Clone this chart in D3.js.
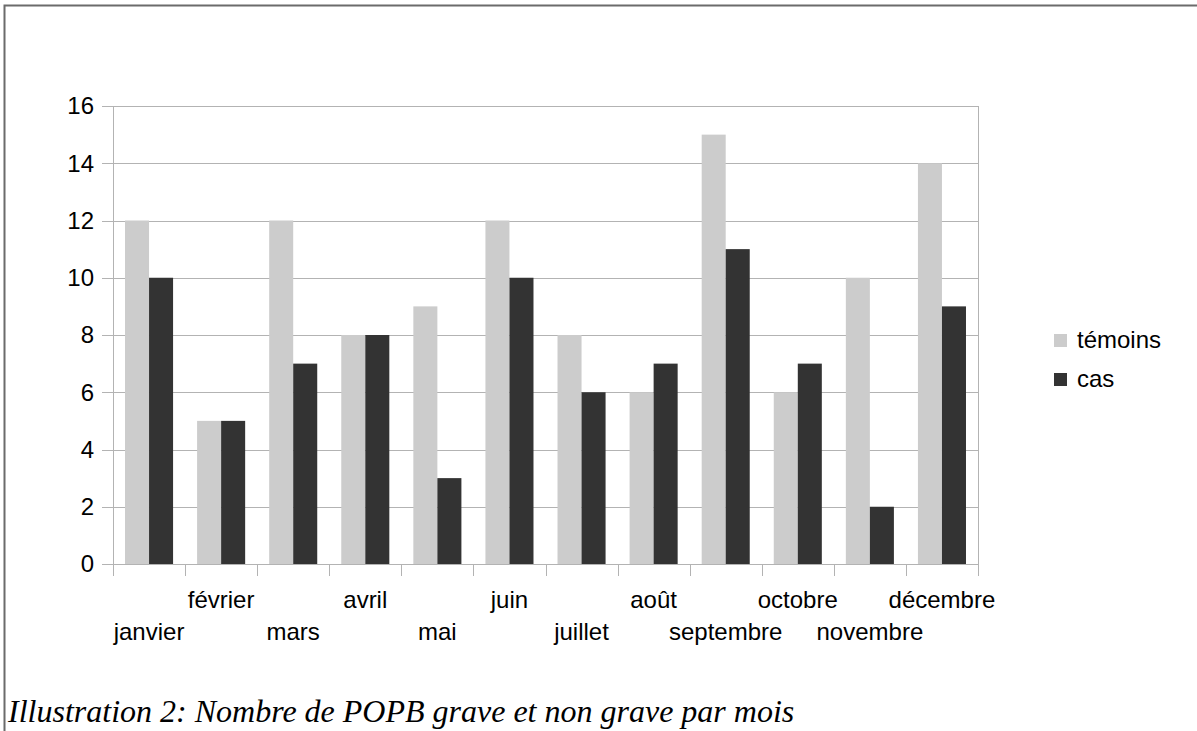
<!DOCTYPE html>
<html>
<head>
<meta charset="utf-8">
<script src="https://cdn.jsdelivr.net/npm/d3@7"></script>
<style>
  body { margin: 0; background: #fff; }
  text { font-family: "Liberation Sans", Arial, sans-serif; fill: #000; }
</style>
</head>
<body>
<svg id="chart" width="1197" height="731"></svg>
<script>
const months = ["janvier", "février", "mars", "avril", "mai", "juin",
  "juillet", "août", "septembre", "octobre", "novembre", "décembre"];
const series = ["témoins", "cas"];
const temoins = [12, 5, 12, 8, 9, 12, 8, 6, 15, 6, 10, 14];
const cas = [10, 5, 7, 8, 3, 10, 6, 7, 11, 7, 2, 9];
const yTicks = [0, 2, 4, 6, 8, 10, 12, 14, 16];
const caption = "Illustration 2: Nombre de POPB grave et non grave par mois";

const colors = { "témoins": "#cccccc", "cas": "#333333" };

const svg = d3.select("#chart");

// frame
svg.append("rect")
  .attr("x", 4.5).attr("y", 5.5)
  .attr("width", 1300).attr("height", 900)
  .attr("fill", "none")
  .attr("stroke", "#6b6b6b")
  .attr("stroke-width", 2);

const plotLeft = 113, plotRight = 978, plotTop = 106, plotBottom = 564;

const x = d3.scaleBand().domain(months).range([plotLeft, plotRight]).padding(0);
const inner = d3.scaleBand().domain(series)
  .range([x.bandwidth() / 6, x.bandwidth() * 5 / 6]).padding(0);
const y = d3.scaleLinear().domain([0, 16]).range([plotBottom, plotTop]);

// grid lines
svg.append("g")
  .selectAll("line")
  .data(yTicks)
  .enter()
  .append("line")
  .attr("x1", plotLeft - 11)
  .attr("x2", plotRight)
  .attr("y1", function (d) { return Math.round(y(d)) + 0.5; })
  .attr("y2", function (d) { return Math.round(y(d)) + 0.5; })
  .attr("stroke", "#b3b3b3")
  .attr("stroke-width", 1);

// y labels
svg.append("g")
  .selectAll("text")
  .data(yTicks)
  .enter()
  .append("text")
  .attr("x", 94)
  .attr("y", function (d) { return y(d); })
  .attr("dy", "0.35em")
  .attr("text-anchor", "end")
  .style("font-size", "24px")
  .text(function (d) { return d; });

// axis lines
svg.append("line")
  .attr("x1", plotLeft + 0.5).attr("x2", plotLeft + 0.5)
  .attr("y1", plotTop).attr("y2", plotBottom)
  .attr("stroke", "#b3b3b3");
svg.append("line")
  .attr("x1", plotRight + 0.5).attr("x2", plotRight + 0.5)
  .attr("y1", plotTop).attr("y2", plotBottom)
  .attr("stroke", "#b3b3b3");

// x ticks
const tickPos = months.map(function (m) { return x(m); }).concat([plotRight]);
svg.append("g")
  .selectAll("line")
  .data(tickPos)
  .enter()
  .append("line")
  .attr("x1", function (d) { return Math.round(d) + 0.5; })
  .attr("x2", function (d) { return Math.round(d) + 0.5; })
  .attr("y1", plotBottom)
  .attr("y2", plotBottom + 12)
  .attr("stroke", "#b3b3b3");

// bars
const groups = svg.append("g")
  .selectAll("g")
  .data(months)
  .enter()
  .append("g")
  .attr("transform", function (d) { return "translate(" + x(d) + ",0)"; });

groups.selectAll("rect")
  .data(function (d, i) {
    return [
      { key: "témoins", value: temoins[i] },
      { key: "cas", value: cas[i] }
    ];
  })
  .enter()
  .append("rect")
  .attr("x", function (d) { return inner(d.key); })
  .attr("width", inner.bandwidth())
  .attr("y", function (d) { return y(d.value); })
  .attr("height", function (d) { return y(0) - y(d.value); })
  .attr("fill", function (d) { return colors[d.key]; });

// x labels, staggered on two rows
svg.append("g")
  .selectAll("text")
  .data(months)
  .enter()
  .append("text")
  .attr("x", function (d) { return x(d) + x.bandwidth() / 2; })
  .attr("y", function (d, i) { return i % 2 === 0 ? 640 : 608; })
  .attr("text-anchor", "middle")
  .style("font-size", "24px")
  .text(function (d) { return d; });

// legend
const legend = svg.append("g")
  .selectAll("g")
  .data(series)
  .enter()
  .append("g")
  .attr("transform", function (d, i) { return "translate(1054," + (334 + i * 39) + ")"; });

legend.append("rect")
  .attr("width", 13).attr("height", 13)
  .attr("fill", function (d) { return colors[d]; });

legend.append("text")
  .attr("x", 23)
  .attr("y", 14)
  .style("font-size", "24px")
  .text(function (d) { return d; });

// caption
svg.append("text")
  .attr("x", 8)
  .attr("y", 722)
  .style("font-family", "'Liberation Serif', 'Times New Roman', serif")
  .style("font-style", "italic")
  .style("font-size", "32px")
  .text(caption);
</script>
</body>
</html>
